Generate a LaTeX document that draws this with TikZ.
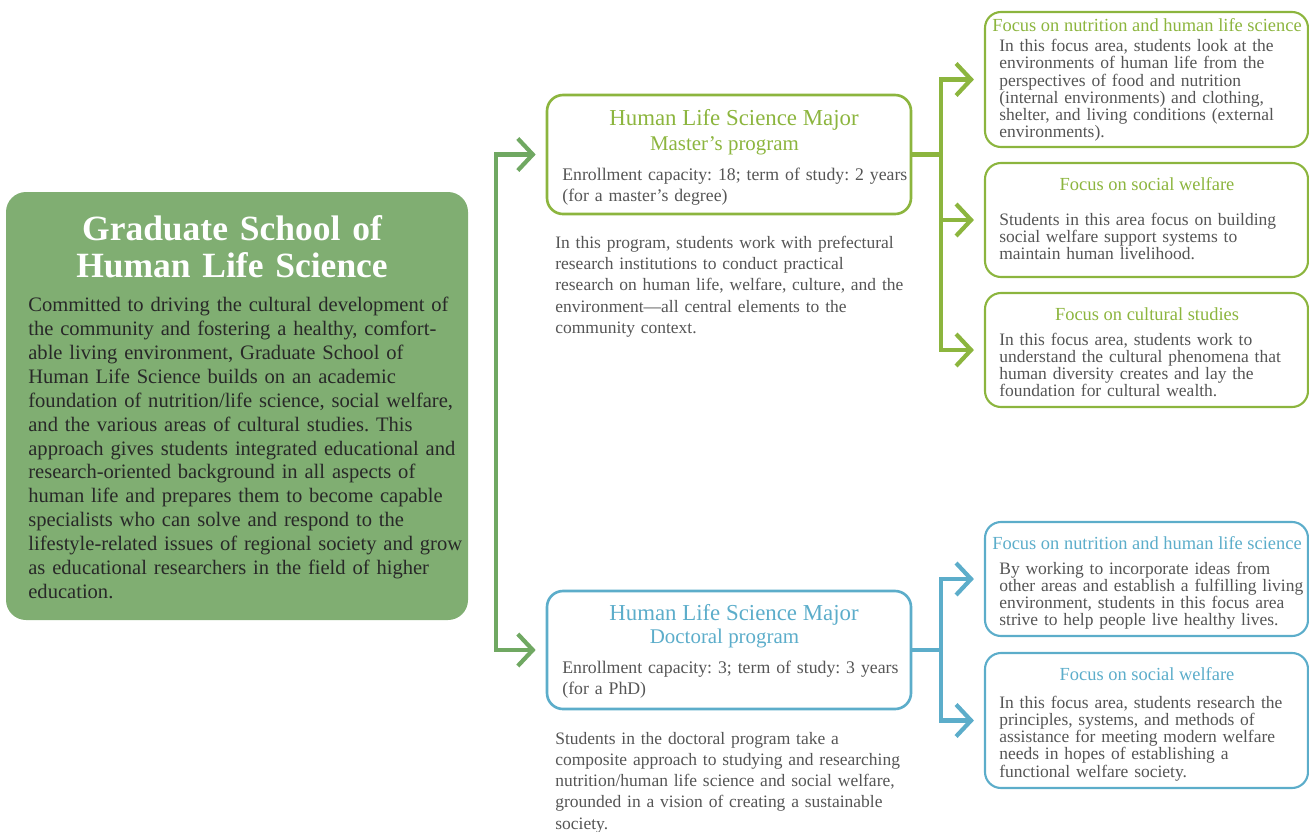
\documentclass[tikz,border=0pt]{standalone}
\usepackage{fontspec}
\setmainfont{Liberation Serif}
\usetikzlibrary{arrows.meta, positioning, fit}
\definecolor{schoolgreen}{RGB}{128,174,114}
\definecolor{linkgreen}{RGB}{112,168,98}
\definecolor{mastergreen}{RGB}{140,181,62}
\definecolor{doctorblue}{RGB}{92,173,202}
\definecolor{bodygray}{RGB}{85,85,85}
\definecolor{darktext}{RGB}{40,40,40}
\frenchspacing

\begin{document}
\begin{tikzpicture}[x=0.02cm, y=-0.02cm,
    >={Straight Barb[length=0.3cm, width=0.64cm]},
    schoolbox/.style={fill=schoolgreen, rounded corners=0.4cm, inner sep=0pt},
    majorbox/.style={draw=#1, line width=1.5pt, rounded corners=0.32cm, inner sep=0pt},
    focusbox/.style={draw=#1, line width=1.2pt, rounded corners=0.32cm, inner sep=0pt},
    link/.style={draw=#1, line width=2.4pt},
    majortitle/.style={text=#1, anchor=base, inner sep=0pt, font=\fontsize{13}{15}\selectfont},
    majorsub/.style={text=#1, anchor=base, inner sep=0pt, font=\fontsize{11.9}{14}\selectfont},
    focustitle/.style={text=#1, anchor=base, inner sep=0pt, font=\fontsize{10.5}{12}\selectfont},
    majortext/.style={text=bodygray, anchor=base west, inner sep=0pt, text width=8cm, align=left,
        font=\fontsize{10.1}{12}\selectfont},
    focustext/.style={text=bodygray, anchor=base west, inner sep=0pt, text width=7cm, align=left,
        font=\fontsize{9.95}{9.8}\selectfont}]
    \useasboundingbox (0,0) rectangle (1309,832);

    \node[schoolbox, fit={(6,192) (468,620)}] (school) {};
    \node[text=white, anchor=base, inner sep=0pt, text width=8.6cm, align=center,
        font=\bfseries\fontsize{20.2}{21.2}\selectfont] (schooltitle) at (232,240)
        {Graduate School of\\Human Life Science};
    \node[text=darktext, anchor=base west, inner sep=0pt, text width=9cm, align=left,
        font=\fontsize{11.7}{13.6}\selectfont] (schooltext) at (28,311.7)
        {Committed to driving the cultural development of\\
        the community and fostering a healthy, comfort-\\
        able living environment, Graduate School of\\
        Human Life Science builds on an academic\\
        foundation of nutrition/life science, social welfare,\\
        and the various areas of cultural studies. This\\
        approach gives students integrated educational and\\
        research-oriented background in all aspects of\\
        human life and prepares them to become capable\\
        specialists who can solve and respond to the\\
        lifestyle-related issues of regional society and grow\\
        as educational researchers in the field of higher\\
        education.};

    \node[majorbox=mastergreen, fit={(547,95) (911,214)}] (master) {};
    \node[majortitle=mastergreen] (mastertitle) at (734,125.7) {Human Life Science Major};
    \node[majorsub=mastergreen] (mastersub) at (724.5,150.7) {Master’s program};
    \node[majortext] (masterterm) at (562,180)
        {Enrollment capacity: 18; term of study: 2 years\\(for a master’s degree)};
    \node[majortext, font=\fontsize{9.95}{12.1}\selectfont] (masterdesc) at (555,248.3)
        {In this program, students work with prefectural\\
        research institutions to conduct practical\\
        research on human life, welfare, culture, and the\\
        environment—all central elements to the\\
        community context.};

    \node[majorbox=doctorblue, fit={(547,591) (911,709)}] (doctor) {};
    \node[majortitle=doctorblue] (doctortitle) at (734,620) {Human Life Science Major};
    \node[majorsub=doctorblue] (doctorsub) at (724.5,643) {Doctoral program};
    \node[majortext] (doctorterm) at (562,673)
        {Enrollment capacity: 3; term of study: 3 years\\(for a PhD)};
    \node[majortext, font=\fontsize{9.95}{12.1}\selectfont] (doctordesc) at (555,744)
        {Students in the doctoral program take a\\
        composite approach to studying and researching\\
        nutrition/human life science and social welfare,\\
        grounded in a vision of creating a sustainable\\
        society.};

    \node[focusbox=mastergreen, fit={(985,12) (1308,147)}] (mnutri) {};
    \node[focustitle=mastergreen] at (1147,31.7) {Focus on nutrition and human life science};
    \node[focustext] at (999,51.7)
        {In this focus area, students look at the\\
        environments of human life from the\\
        perspectives of food and nutrition\\
        (internal environments) and clothing,\\
        shelter, and living conditions (external\\
        environments).};

    \node[focusbox=mastergreen, fit={(985,163) (1308,277)}] (mwelfare) {};
    \node[focustitle=mastergreen] at (1147,190) {Focus on social welfare};
    \node[focustext] at (999,225)
        {Students in this area focus on building\\
        social welfare support systems to\\
        maintain human livelihood.};

    \node[focusbox=mastergreen, fit={(985,293) (1308,407)}] (mculture) {};
    \node[focustitle=mastergreen] at (1147,320.7) {Focus on cultural studies};
    \node[focustext] at (999,345)
        {In this focus area, students work to\\
        understand the cultural phenomena that\\
        human diversity creates and lay the\\
        foundation for cultural wealth.};

    \node[focusbox=doctorblue, fit={(985,522) (1308,636)}] (dnutri) {};
    \node[focustitle=doctorblue] at (1147,549.3) {Focus on nutrition and human life science};
    \node[focustext] at (999,574)
        {By working to incorporate ideas from\\
        other areas and establish a fulfilling living\\
        environment, students in this focus area\\
        strive to help people live healthy lives.};

    \node[focusbox=doctorblue, fit={(985,653) (1308,788)}] (dwelfare) {};
    \node[focustitle=doctorblue] at (1147,680) {Focus on social welfare};
    \node[focustext] at (999,708.3)
        {In this focus area, students research the\\
        principles, systems, and methods of\\
        assistance for meeting modern welfare\\
        needs in hopes of establishing a\\
        functional welfare society.};

    \draw[link=linkgreen, <->, shorten <=0.2cm, shorten >=0.2cm] (master.west) -- ++(-50,0) |- (doctor.west);

    \draw[link=mastergreen] (master.east) -- ++(29,0) coordinate (mfork);
    \draw[link=mastergreen, ->, shorten >=0.2cm] (mfork) |- (mnutri.west);
    \draw[link=mastergreen, ->, shorten >=0.2cm] (mfork) |- (mwelfare.west);
    \draw[link=mastergreen, ->, shorten >=0.2cm] (mfork) |- (mculture.west);

    \draw[link=doctorblue] (doctor.east) -- ++(29,0) coordinate (dfork);
    \draw[link=doctorblue, ->, shorten >=0.2cm] (dfork) |- (dnutri.west);
    \draw[link=doctorblue, ->, shorten >=0.2cm] (dfork) |- (dwelfare.west);
\end{tikzpicture}
\end{document}
